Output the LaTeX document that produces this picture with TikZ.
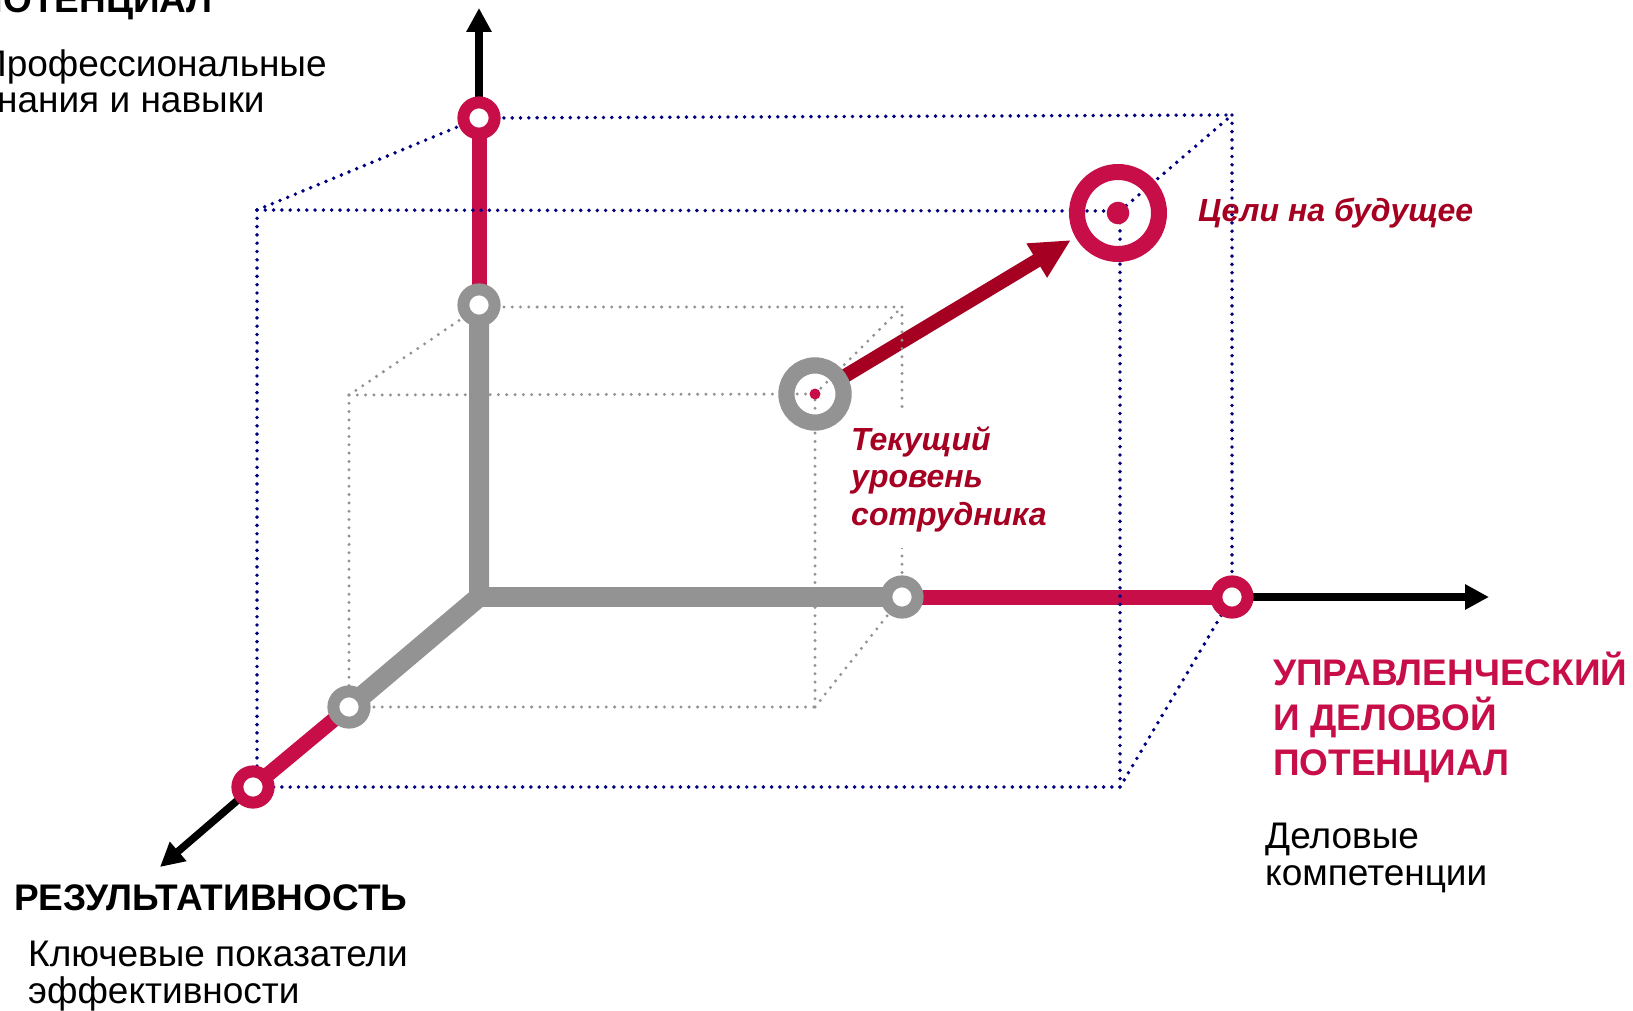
\documentclass[tikz,border=0pt]{standalone}
\usepackage{fontspec}
\setmainfont{Liberation Sans}
\usetikzlibrary{arrows.meta,calc}
\definecolor{crim}{HTML}{C80E48}
\definecolor{dred}{HTML}{A50021}
\definecolor{gr}{HTML}{939393}
\definecolor{navyb}{HTML}{000080}
\begin{document}
\begin{tikzpicture}[x=1pt,y=-1pt,
  blued/.style={navyb, line width=3.9pt, line cap=round, dash pattern=on 0pt off 8.3pt},
  grayd/.style={gr, line width=3.3pt, line cap=round, dash pattern=on 0pt off 8.3pt},
  axisline/.style={black, line width=7.5pt, -{Triangle[length=24pt,width=24pt]}},
  redbar/.style={crim, line width=15pt},
  graybar/.style={gr, line width=20pt},
  ringr/.style={circle, draw=crim, line width=12pt, fill=white, minimum size=31.2pt, inner sep=0pt},
  ringg/.style={circle, draw=gr, line width=12pt, fill=white, minimum size=31.2pt, inner sep=0pt},
  dotc/.style={circle, fill=crim, inner sep=0pt},
  lbl/.style={inner sep=0pt, align=left, anchor=base west},
]
\useasboundingbox (0,0) rectangle (1633,1011);
\fill[white] (0,0) rectangle (1633,1011);

% key points
\coordinate (O) at (479,597);
\coordinate (pV2) at (479,118);
\coordinate (pV1) at (479,305);
\coordinate (pH1) at (902,597);
\coordinate (pH2) at (1232,597);
\coordinate (pD1) at (349,707);
\coordinate (pD2) at (253,787);
\coordinate (topTip) at (479,8);
\coordinate (rightTip) at (1489,597);
\coordinate (diagTip) at (160,867);
\coordinate (pCur) at (815,394);
\coordinate (pGoal) at (1118,213);
\coordinate (goalTip) at (1071,240);
% blue box
\coordinate (bBTR) at (1232,115);
\coordinate (bFTL) at (257,210);
\coordinate (bFBL) at (257,787);
\coordinate (bFBR) at (1120,787);
\coordinate (bFTR) at (1120,211);
% gray box
\coordinate (gBTR) at (902,307);
\coordinate (gBTL) at (479,307);
\coordinate (gFTL) at (349,395);
\coordinate (gFBR) at (815,707);

% axes
\draw[axisline] (pV2) -- (topTip);
\draw[axisline] (pH2) -- (rightTip);
\draw[axisline] (pD2) -- (diagTip);

% bars
\draw[redbar] (pV2) -- (pV1);
\draw[redbar] (pH1) -- (pH2);
\draw[redbar] (pD1) -- (pD2);
\draw[graybar, line join=miter] (pD1) -- (O) -- (pV1);
\draw[graybar] (O) -- (pH1);

% growth arrow
\coordinate (arrStart) at ($(pCur)!33pt!(goalTip)$);
\draw[dred, line width=14pt, -{Triangle[length=40pt,width=37pt]}] (arrStart) -- (goalTip);

% gray dotted box
\draw[grayd] (gFTL) -- (gBTL);
\draw[grayd] (gFTL) -- (pCur);
\draw[grayd] (gFTL) -- (pD1);
\draw[grayd] (pD1) -- (gFBR);
\draw[grayd] (gFBR) -- (pCur);
\draw[grayd] (gFBR) -- (pH1);
\draw[grayd] (pCur) -- (gBTR);
\draw[grayd] (gBTL) -- (gBTR);
\draw[grayd] (gBTR) -- (pH1);

% current level label (white box masks the dotted edge behind it)
\node[lbl, text=dred, fill=white, inner xsep=8pt, inner ysep=16pt, font=\fontsize{32}{37.5}\selectfont\bfseries\itshape] (tcur) at (843,525) {Текущий\\уровень\\сотрудника};

% blue dotted box
\draw[blued] (bFTL) -- (pV2);
\draw[blued] (bFTL) -- (bFTR);
\draw[blued] (bFTL) -- (bFBL);
\draw[blued] (bFBL) -- (bFBR);
\draw[blued] (bFBR) -- (bFTR);
\draw[blued] (bFBR) -- (pH2);
\draw[blued] (bFTR) -- (bBTR);
\draw[blued] (pV2) -- (bBTR);
\draw[blued] (bBTR) -- (pH2);

% rings
\node[ringr] (V2) at (pV2) {};
\node[ringg] (V1) at (pV1) {};
\node[ringg] (H1) at (pH1) {};
\node[ringr] (H2) at (pH2) {};
\node[ringg] (D1) at (pD1) {};
\node[ringr] (D2) at (pD2) {};
\node[circle, draw=gr, line width=16.2pt, minimum size=57.2pt, inner sep=0pt] (cur) at (pCur) {};
\node[dotc, minimum size=11pt] (curdot) at (pCur) {};
\node[circle, draw=crim, line width=16pt, minimum size=82pt, inner sep=0pt] (goal) at (pGoal) {};
\node[dotc, minimum size=22.6pt] (goaldot) at (pGoal) {};

% labels
\node[inner sep=0pt, anchor=base east, font=\fontsize{37}{45}\selectfont\bfseries] (tpot) at (213,13) {ПОТЕНЦИАЛ};
\node[lbl, font=\fontsize{37}{36}\selectfont] (tprof) at (-20,113) {Профессиональные\\знания и навыки};
\node[lbl, font=\fontsize{37}{45}\selectfont\bfseries] (tres) at (14,910) {РЕЗУЛЬТАТИВНОСТЬ};
\node[lbl, font=\fontsize{37}{37}\selectfont] (tkpi) at (28,1003) {Ключевые показатели\\эффективности};
\node[lbl, text=crim, font=\fontsize{37}{45}\selectfont\bfseries] (tman) at (1273,775) {УПРАВЛЕНЧЕСКИЙ\\И ДЕЛОВОЙ\\ПОТЕНЦИАЛ};
\node[lbl, font=\fontsize{37}{37}\selectfont] (tbus) at (1265,885) {Деловые\\компетенции};
\node[lbl, text=dred, font=\fontsize{32}{37}\selectfont\bfseries\itshape] (tgoal) at (1198,222) {Цели на будущее};
\end{tikzpicture}
\end{document}
